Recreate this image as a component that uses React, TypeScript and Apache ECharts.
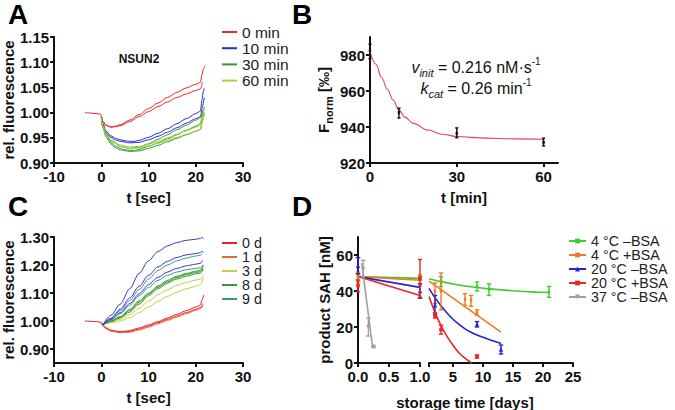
import React, { useEffect, useRef } from "react";
import * as echarts from "echarts";

const FONT = '"Liberation Sans", Arial, Helvetica, sans-serif';
const INK = "#111111";

// ---------- Panel A: NSUN2 traces ----------
const aNames = ["0 min", "10 min", "30 min", "60 min"];
const aColors = ["#e8262b", "#2a2ad0", "#2f9a3a", "#a6cf3a"];
const aRed1 = [[-3.5,1.0],[-2,0.999],[-0.2,0.997],[0,0.993],[0.3,0.983],[1,0.975],[2,0.972],[3,0.973],[4,0.976],[6,0.985],[8,0.996],[10,1.008],[12,1.019],[14,1.03],[16,1.04],[18,1.049],[20,1.056],[21,1.06],[21.3,1.075],[21.6,1.086],[21.9,1.092]];
const aRed2 = [[0,0.993],[0.3,0.982],[1,0.974],[2,0.971],[3,0.972],[4,0.974],[6,0.982],[8,0.992],[10,1.002],[12,1.012],[14,1.021],[16,1.03],[18,1.037],[20,1.044],[21,1.047],[21.4,1.06]];
const aBlue1 = [[0,0.992],[0.3,0.978],[1,0.963],[2,0.954],[3,0.949],[4,0.946],[5,0.944],[6,0.943],[7,0.943],[8,0.945],[10,0.951],[12,0.959],[14,0.968],[16,0.978],[18,0.988],[20,0.998],[21,1.003],[21.3,1.025],[21.6,1.042],[21.8,1.048]];
const aBlue2 = [[0,0.99],[0.3,0.976],[1,0.96],[2,0.951],[3,0.946],[4,0.943],[6,0.94],[8,0.941],[10,0.946],[12,0.953],[14,0.961],[16,0.97],[18,0.979],[20,0.988],[21,0.992],[21.4,1.012],[21.8,1.03]];
const aGreen1 = [[0,0.99],[0.3,0.972],[1,0.955],[2,0.941],[3,0.933],[4,0.929],[5,0.926],[6,0.925],[7,0.925],[8,0.927],[10,0.933],[12,0.94],[14,0.948],[16,0.956],[18,0.965],[20,0.973],[21,0.978],[21.3,0.993],[21.8,1.012]];
const aGreen2 = [[0,0.99],[0.3,0.97],[1,0.952],[2,0.938],[3,0.93],[4,0.926],[6,0.923],[8,0.924],[10,0.929],[12,0.935],[14,0.942],[16,0.949],[18,0.956],[20,0.963],[21,0.967],[21.4,0.985],[21.8,1.0]];
const aGreen3 = [[0,0.99],[0.3,0.974],[1,0.958],[2,0.945],[4,0.933],[6,0.929],[8,0.931],[10,0.938],[12,0.947],[14,0.956],[16,0.966],[18,0.975],[20,0.985],[21,0.99],[21.5,1.005]];
const aYG1 = [[0,0.99],[0.3,0.974],[1,0.958],[2,0.946],[4,0.936],[6,0.932],[8,0.933],[10,0.937],[12,0.943],[14,0.95],[16,0.957],[18,0.964],[20,0.971],[21,0.975],[21.3,0.99],[21.8,1.01]];
const aYG2 = [[0,0.99],[0.3,0.972],[1,0.955],[2,0.943],[4,0.933],[6,0.929],[8,0.93],[10,0.934],[12,0.939],[14,0.945],[16,0.951],[18,0.957],[20,0.963],[21,0.966],[21.4,0.982],[21.8,0.998]];

// ---------- Panel B: Fnorm vs pre-incubation time ----------
const bPoints = [[0,982.5,978,986],[10,948,945,950.5],[30,936.5,934,939.5],[60,931.5,929.5,933.8]];
const bFit = [[0,982],[2,975],[4,967.5],[6,961],[8,955],[10,949.5],[12,945.5],[15,942],[20,938.3],[25,936],[30,934.7],[40,933.8],[50,933.4],[60,933.2]];

// ---------- Panel C: storage traces ----------
const cNames = ["0 d", "1 d", "3 d", "8 d", "9 d"];
const cColors = ["#e52222", "#f0643c", "#c4cf3c", "#3a9a3a", "#2f9a8a"];
const cBlueColor = "#3838d0";
const cRed1 = [[-3.5,1.0],[-1,0.998],[0,0.995],[0.3,0.986],[1,0.976],[2,0.968],[3,0.964],[4,0.962],[5,0.963],[6,0.966],[8,0.975],[10,0.986],[12,0.998],[14,1.011],[16,1.024],[18,1.037],[20,1.05],[21,1.057],[21.3,1.075],[21.7,1.093]];
const cRed2 = [[0,0.993],[0.3,0.984],[1,0.973],[2,0.965],[4,0.96],[6,0.963],[8,0.971],[10,0.982],[12,0.994],[14,1.006],[16,1.018],[18,1.03],[20,1.042],[21,1.048],[21.5,1.062]];
const cOrange = [[0,0.993],[0.3,0.985],[1,0.973],[2,0.964],[4,0.958],[6,0.96],[8,0.968],[10,0.978],[12,0.99],[14,1.002],[16,1.014],[18,1.026],[20,1.038],[21,1.044],[21.5,1.055]];
const cBlue1 = [[0.3,0.986],[2,1.02],[4,1.06],[6,1.115],[8,1.17],[10,1.215],[12,1.248],[14,1.268],[16,1.28],[18,1.288],[20,1.292],[21,1.295],[21.3,1.3],[21.6,1.294]];
const cBlue2 = [[0.3,0.986],[2,1.01],[4,1.042],[6,1.082],[8,1.124],[10,1.163],[12,1.193],[14,1.213],[16,1.227],[18,1.236],[20,1.241],[21,1.244],[21.3,1.25],[21.6,1.244]];
const cBlue3 = [[0.3,0.986],[2,1.005],[4,1.03],[6,1.062],[8,1.097],[10,1.13],[12,1.156],[14,1.175],[16,1.188],[18,1.197],[20,1.203],[21,1.206],[21.4,1.216]];
const cTeal1 = [[0.3,0.986],[2,1.008],[4,1.037],[6,1.073],[8,1.112],[10,1.15],[12,1.18],[14,1.2],[16,1.215],[18,1.225],[20,1.232],[21,1.235],[21.4,1.24]];
const cTeal2 = [[0.3,0.986],[2,1.004],[4,1.026],[6,1.056],[8,1.09],[10,1.12],[12,1.145],[14,1.163],[16,1.175],[18,1.183],[20,1.188],[21,1.19],[21.5,1.2]];
const cGreen1 = [[0.3,0.986],[2,1.0],[4,1.016],[6,1.042],[8,1.072],[10,1.1],[12,1.125],[14,1.145],[16,1.16],[18,1.17],[20,1.178],[21,1.182],[21.6,1.2]];
const cGreen2 = [[0.3,0.986],[2,0.999],[4,1.013],[6,1.037],[8,1.066],[10,1.095],[12,1.12],[14,1.14],[16,1.155],[18,1.165],[20,1.173],[21,1.176],[21.5,1.19]];
const cGreen3 = [[0.3,0.986],[2,0.998],[4,1.011],[6,1.032],[8,1.06],[10,1.09],[12,1.115],[14,1.135],[16,1.15],[18,1.16],[20,1.168],[21,1.171],[21.6,1.185]];
const cYG1 = [[0.3,0.986],[2,0.996],[4,1.006],[6,1.023],[8,1.046],[10,1.071],[12,1.094],[14,1.112],[16,1.127],[18,1.138],[20,1.146],[21,1.15],[21.5,1.162]];
const cYG2 = [[0.3,0.986],[2,0.993],[4,1.0],[6,1.012],[8,1.03],[10,1.05],[12,1.07],[14,1.088],[16,1.103],[18,1.115],[20,1.124],[21,1.13],[21.6,1.155]];
const cYG3 = [[0.3,0.986],[2,0.999],[4,1.014],[6,1.038],[8,1.068],[10,1.097],[12,1.122],[14,1.142],[16,1.157],[18,1.168],[20,1.176],[21,1.18],[21.6,1.195]];

// ---------- Panel D: storage stability ----------
const dNames = ["4 °C –BSA", "4 °C +BSA", "20 °C –BSA", "20 °C +BSA", "37 °C –BSA"];
const dColors = ["#3ccc2c", "#ec7c24", "#2424d4", "#ec2424", "#a0a0a0"];
// fits, early segment (0–1 d)
const dFitEarly = [
  [[0,48],[1,47]],
  [[0,48],[1,46]],
  [[0,48],[1,42]],
  [[0,48],[1,37.5]],
  [[0.06,55.5],[0.235,9]],
];
// fits, late segment (1–25 d)
const dFitLate = [
  [[1,46.8],[3,45.2],[5,43.9],[7,42.8],[9,41.9],[11,41.2],[13,40.6],[15,40.1],[17,39.7],[19,39.4],[21,39.2]],
  [[1,45.5],[13,17.2]],
  [[1,41.5],[2,36.3],[3,31.8],[4,27.8],[5,24.3],[6,21.4],[7,19],[8,17.1],[9,15.6],[10,14.3],[11,13.1],[12,12],[13,10.8]],
  [[1,37],[2,28.1],[3,20.8],[4,14.8],[5,9.9],[6,5.6],[7,2.7],[8.1,0]],
  [],
];
// measured points [day, mean, low, high]
const dPtsEarly = [
  [[0,48,46.5,49.5],[1,47,46,48]],
  [[0,48,45,50.5],[1,46,43,49]],
  [[0,54,49.5,58.5],[1,40,36,44]],
  [[0,43,39.5,46],[1,47,36.5,57.5]],
  [[0.083,52,48,57],[0.167,20,15,25],[0.25,9,8.6,9.4]],
];
const dPtsLate = [
  [[3,45.5,42.5,48],[9,42.5,40,45],[11,41,37.5,44],[21,39.5,36.5,42.5]],
  [[2,40,33,44.5],[3,40,29.5,50],[7,35.5,32,38.5],[8,35,31.5,37.5],[9,28,26.5,29.5]],
  [[2,32,27,37.5],[9,21.5,20,23],[13,7.5,5,10]],
  [[2,26.5,25,28],[3,18.5,16,21],[9,3.5,2.8,4.5]],
  [],
];
const dMarkers = ["bar", "bar", "tri", "sq", "trid"];

function errorRender(color: string, marker: string, cap: number) {
  return (params: any, api: any) => {
    const x = api.value(0);
    const m = api.value(1);
    const lo = api.value(2);
    const hi = api.value(3);
    const pLo = api.coord([x, lo]);
    const pHi = api.coord([x, hi]);
    const pM = api.coord([x, m]);
    const st = { stroke: color, lineWidth: 1.4 };
    const children: any[] = [
      { type: "line", shape: { x1: pLo[0], y1: pLo[1], x2: pHi[0], y2: pHi[1] }, style: st },
      { type: "line", shape: { x1: pLo[0] - cap, y1: pLo[1], x2: pLo[0] + cap, y2: pLo[1] }, style: st },
      { type: "line", shape: { x1: pHi[0] - cap, y1: pHi[1], x2: pHi[0] + cap, y2: pHi[1] }, style: st },
    ];
    const s = 2.2;
    if (marker === "tri") {
      children.push({ type: "polygon", shape: { points: [[pM[0], pM[1] - s], [pM[0] - s, pM[1] + s], [pM[0] + s, pM[1] + s]] }, style: { fill: color } });
    } else if (marker === "trid") {
      children.push({ type: "polygon", shape: { points: [[pM[0], pM[1] + s], [pM[0] - s, pM[1] - s], [pM[0] + s, pM[1] - s]] }, style: { fill: color } });
    } else if (marker === "sq") {
      children.push({ type: "rect", shape: { x: pM[0] - 1.8, y: pM[1] - 1.8, width: 3.6, height: 3.6 }, style: { fill: color } });
    } else {
      children.push({ type: "rect", shape: { x: pM[0] - 1.2, y: pM[1] - 1.5, width: 2.4, height: 3 }, style: { fill: color } });
    }
    return { type: "group", children };
  };
}

const axisBase = {
  type: "value",
  axisLine: { show: true, onZero: false, lineStyle: { color: INK, width: 2 } },
  axisTick: { show: true, length: 4, lineStyle: { color: INK, width: 2 } },
  axisLabel: { color: INK, fontFamily: FONT, fontWeight: "bold", fontSize: 15, margin: 6 },
  splitLine: { show: false },
  nameTextStyle: { color: INK, fontFamily: FONT, fontWeight: "bold", fontSize: 15 },
  nameLocation: "middle",
};

function lineSeries(name: string, data: number[][], color: string, xi: number, width = 1) {
  return {
    type: "line",
    name,
    xAxisIndex: xi,
    yAxisIndex: xi,
    data,
    symbol: "none",
    showSymbol: false,
    smooth: 0.3,
    smoothMonotone: "x",
    lineStyle: { color, width },
    itemStyle: { color },
    z: 3,
  };
}

export default function App() {
  const ref = useRef<HTMLDivElement>(null);
  useEffect(() => {
    if (!ref.current) return;
    const chart = echarts.init(ref.current, undefined, { renderer: "svg" });

    const series: any[] = [];
    // Panel A
    [[aRed1, aRed2], [aBlue1, aBlue2], [aGreen1, aGreen2, aGreen3], [aYG1, aYG2]].forEach((grp, i) => {
      grp.forEach((d) => series.push(lineSeries(aNames[i], d, aColors[i], 0)));
    });
    // Panel B
    series.push({ ...lineSeries("fit", bFit, "#e04656", 1, 1.1), smooth: 0.4 });
    series.push({
      type: "custom", name: "B points", xAxisIndex: 1, yAxisIndex: 1,
      data: bPoints, encode: { x: 0, y: [1, 2, 3] },
      renderItem: errorRender("#111111", "bar", 1.6), z: 5,
    });
    // Panel C
    const cGroups: [string, string, number[][][]][] = [
      [cNames[0], cColors[0], [cRed1, cRed2]],
      [cNames[1], cColors[1], [cOrange]],
      [cNames[2], cColors[2], [cYG1, cYG2, cYG3]],
      [cNames[3], cColors[3], [cGreen1, cGreen2, cGreen3]],
      [cNames[4], cColors[4], [cTeal1, cTeal2]],
      ["blue traces", cBlueColor, [cBlue1, cBlue2, cBlue3]],
    ];
    cGroups.forEach(([n, col, arr]) => arr.forEach((d) => series.push(lineSeries(n, d, col, 2))));
    // Panel D
    dNames.forEach((n, i) => {
      const sym = dMarkers[i] === "tri" ? "triangle" : dMarkers[i] === "trid" ? "triangle" : dMarkers[i] === "sq" ? "rect" : "path://M0,0H1V10H0Z";
      const common = {
        type: "line", name: n, symbol: sym, symbolRotate: dMarkers[i] === "trid" ? 180 : 0,
        showSymbol: false, lineStyle: { color: dColors[i], width: 1.6 }, itemStyle: { color: dColors[i] },
        smooth: 0.3, z: 3,
      };
      series.push({ ...common, xAxisIndex: 3, yAxisIndex: 3, data: dFitEarly[i] });
      if (dFitLate[i].length) series.push({ ...common, xAxisIndex: 4, yAxisIndex: 4, data: dFitLate[i] });
      series.push({
        type: "custom", name: n + " pts1", xAxisIndex: 3, yAxisIndex: 3, data: dPtsEarly[i],
        encode: { x: 0, y: [1, 2, 3] }, renderItem: errorRender(dColors[i], dMarkers[i], 2.2), z: 4,
      });
      if (dPtsLate[i].length)
        series.push({
          type: "custom", name: n + " pts2", xAxisIndex: 4, yAxisIndex: 4, data: dPtsLate[i],
          encode: { x: 0, y: [1, 2, 3] }, renderItem: errorRender(dColors[i], dMarkers[i], 2.2), z: 4,
        });
    });

    const legendText = { fontFamily: FONT, color: "#222" };

    const option: any = {
      animation: false,
      backgroundColor: "#ffffff",
      grid: [
        { left: 53, top: 37, width: 190, height: 126 },
        { left: 370, top: 37, width: 188, height: 126 },
        { left: 53, top: 237, width: 190, height: 126 },
        { left: 358, top: 237, width: 62, height: 126 },
        { left: 429, top: 237, width: 144, height: 126 },
      ],
      xAxis: [
        { ...axisBase, gridIndex: 0, min: -10, max: 30, interval: 10, name: "t [sec]", nameGap: 27 },
        {
          ...axisBase, gridIndex: 1, min: 0, max: 65, name: "t [min]", nameGap: 27,
          axisTick: { ...axisBase.axisTick, customValues: [0, 30, 60] },
          axisLabel: { ...axisBase.axisLabel, customValues: [0, 30, 60] },
        },
        { ...axisBase, gridIndex: 2, min: -10, max: 30, interval: 10, name: "t [sec]", nameGap: 27 },
        {
          ...axisBase, gridIndex: 3, min: 0, max: 1, interval: 0.5,
          axisLabel: { ...axisBase.axisLabel, formatter: (v: number) => v.toFixed(1) },
        },
        {
          ...axisBase, gridIndex: 4, min: 1, max: 25,
          axisTick: { ...axisBase.axisTick, customValues: [1, 5, 10, 15, 20, 25] },
          axisLabel: { ...axisBase.axisLabel, customValues: [5, 10, 15, 20, 25] },
        },
      ],
      yAxis: [
        {
          ...axisBase, gridIndex: 0, min: 0.9, max: 1.15, interval: 0.05, name: "rel. fluorescence", nameGap: 36,
          axisLabel: { ...axisBase.axisLabel, margin: 5, formatter: (v: number) => v.toFixed(2) },
        },
        {
          ...axisBase, gridIndex: 1, min: 920, max: 990, nameGap: 36,
          name: "{a|F}{b|norm}{a| [‰]}",
          nameTextStyle: {
            ...axisBase.nameTextStyle,
            rich: {
              a: { fontFamily: FONT, fontWeight: "bold", fontSize: 15, color: INK, lineHeight: 22 },
              b: { fontFamily: FONT, fontWeight: "bold", fontSize: 11, color: INK, verticalAlign: "bottom", lineHeight: 12 },
            },
          },
          axisTick: { ...axisBase.axisTick, customValues: [920, 940, 960, 980] },
          axisLabel: { ...axisBase.axisLabel, margin: 5, customValues: [920, 940, 960, 980] },
        },
        {
          ...axisBase, gridIndex: 2, min: 0.85, max: 1.3, name: "rel. fluorescence", nameGap: 36,
          axisTick: { ...axisBase.axisTick, customValues: [0.9, 1.0, 1.1, 1.2, 1.3] },
          axisLabel: { ...axisBase.axisLabel, margin: 5, customValues: [0.9, 1.0, 1.1, 1.2, 1.3], formatter: (v: number) => v.toFixed(2) },
        },
        {
          ...axisBase, gridIndex: 3, min: 0, max: 70, name: "product SAH [nM]", nameGap: 26,
          axisTick: { ...axisBase.axisTick, customValues: [0, 20, 40, 60] },
          axisLabel: { ...axisBase.axisLabel, margin: 5, customValues: [0, 20, 40, 60] },
        },
        { ...axisBase, gridIndex: 4, min: 0, max: 70, show: false },
      ],
      legend: [
        {
          data: aNames, orient: "vertical", left: 217, top: 19, itemWidth: 15, itemHeight: 2, itemGap: 0.2,
          icon: "rect", textStyle: { ...legendText, fontSize: 15.5 }, selectedMode: false,
        },
        {
          data: cNames, orient: "vertical", left: 217, top: 231, itemWidth: 15, itemHeight: 2, itemGap: 0,
          icon: "rect", textStyle: { ...legendText, fontSize: 14.3 }, selectedMode: false,
        },
        {
          data: dNames, orient: "vertical", left: 563, top: 229, itemWidth: 17, itemHeight: 6, itemGap: 0,
          textStyle: { ...legendText, fontSize: 14.3 }, selectedMode: false,
        },
      ],
      graphic: [
        { type: "text", x: 8, y: 0, style: { text: "A", font: `bold 28px ${FONT}`, fill: "#000" } },
        { type: "text", x: 292, y: 0, style: { text: "B", font: `bold 28px ${FONT}`, fill: "#000" } },
        { type: "text", x: 8, y: 192, style: { text: "C", font: `bold 28px ${FONT}`, fill: "#000" } },
        { type: "text", x: 292, y: 192, style: { text: "D", font: `bold 28px ${FONT}`, fill: "#000" } },
        {
          type: "text", x: 139, y: 59,
          style: { text: "NSUN2", font: `bold 12px ${FONT}`, fill: INK, align: "center", verticalAlign: "middle", textAlign: "center", textVerticalAlign: "middle" },
        },
        {
          type: "text", x: 476, y: 67,
          style: {
            text: "{i|v}{s|init}{t| = 0.216 nM·s}{p|-1}",
            align: "center", verticalAlign: "middle", textAlign: "center", textVerticalAlign: "middle",
            rich: {
              i: { fontFamily: FONT, fontSize: 16, fontStyle: "italic", fill: INK, lineHeight: 22 },
              s: { fontFamily: FONT, fontSize: 11, fontStyle: "italic", fill: INK, verticalAlign: "bottom", lineHeight: 12 },
              t: { fontFamily: FONT, fontSize: 16, fill: INK, lineHeight: 22 },
              p: { fontFamily: FONT, fontSize: 10, fill: INK, verticalAlign: "top", lineHeight: 11 },
            },
          },
        },
        {
          type: "text", x: 476, y: 88,
          style: {
            text: "{i|k}{s|cat}{t| = 0.26 min}{p|-1}",
            align: "center", verticalAlign: "middle", textAlign: "center", textVerticalAlign: "middle",
            rich: {
              i: { fontFamily: FONT, fontSize: 16, fontStyle: "italic", fill: INK, lineHeight: 22 },
              s: { fontFamily: FONT, fontSize: 11, fontStyle: "italic", fill: INK, verticalAlign: "bottom", lineHeight: 12 },
              t: { fontFamily: FONT, fontSize: 16, fill: INK, lineHeight: 22 },
              p: { fontFamily: FONT, fontSize: 10, fill: INK, verticalAlign: "top", lineHeight: 11 },
            },
          },
        },
        {
          type: "text", x: 465, y: 402,
          style: { text: "storage time [days]", font: `bold 15px ${FONT}`, fill: INK, align: "center", verticalAlign: "middle", textAlign: "center", textVerticalAlign: "middle" },
        },
      ],
      series,
    };
    chart.setOption(option);
    return () => chart.dispose();
  }, []);

  return (
    <div
      ref={ref}
      style={{ position: "fixed", left: 0, top: 0, width: 675, height: 410, background: "#fff" }}
    />
  );
}
